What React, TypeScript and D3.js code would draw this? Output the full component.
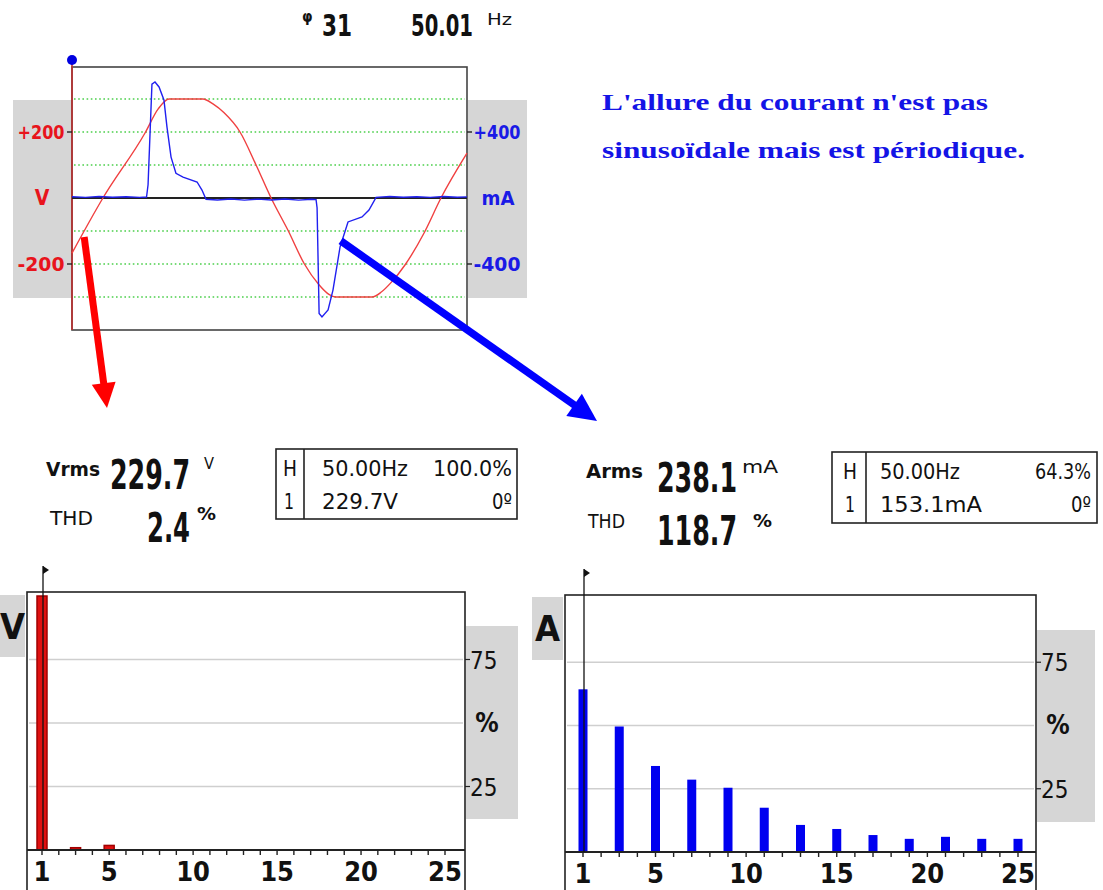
import React from "react";
import * as d3 from "d3";

// ---------- data ----------
const voltTime = [0, 1.83, 4.32, 5.1, 5.74, 7.75, 8.34, 9.0, 9.94, 10.89, 11.78, 12.8, 13.75, 14.6, 15.2, 15.6, 17.75, 18.3, 18.9, 19.7, 20.83, 21.83, 23.37];
const voltValues = [-167, 0, 197, 270, 300, 300, 285, 258, 200, 100, 0, -100, -200, -262, -292, -300, -300, -285, -255, -203, -106, 0, 136];

const currTime = [0, 0.8, 1.6, 2.4, 3.2, 4.0, 4.41, 4.5, 4.73, 4.91, 5.15, 5.44, 5.62, 5.86, 6.15, 6.57, 7.4, 7.69, 7.93, 8.6, 9.4, 10.2, 11.0, 11.8, 12.6, 13.4, 14.2, 14.44, 14.5, 14.62, 14.79, 15.15, 15.44, 15.86, 16.33, 17.16, 17.57, 17.99, 18.8, 19.6, 20.4, 21.2, 22.0, 22.8, 23.37];
const currValues = [8, 4, 9, 5, 8, 4, 6, 80, 690, 703, 673, 594, 430, 248, 150, 127, 97, 48, -8, -12, -6, -13, -7, -12, -6, -13, -8, -10, -60, -700, -721, -679, -558, -297, -145, -115, -73, 4, 9, 5, 8, 4, 9, 5, 7];

const voltGrid = [-300, -200, -100, 100, 200, 300];
const voltTicks = [200, -200];
const currTicks = [400, -400];

const harmonics = [1, 3, 5, 7, 9, 11, 13, 15, 17, 19, 21, 23, 25];
const voltHarm = [100, 0.9, 1.8, 0, 0, 0, 0, 0, 0, 0, 0, 0, 0];
const currHarm = [64.3, 49.6, 34, 28.6, 25.4, 17.5, 10.7, 9.1, 6.7, 5.2, 6, 5.2, 5.2];
const harmTickLabels = [1, 5, 10, 15, 20, 25];
const pctGrid = [25, 50, 75];
const pctTickLabels = [75, 25];

const NARROW = "'Liberation Sans Narrow', 'Arial Narrow', 'DejaVu Sans Condensed', 'DejaVu Sans', sans-serif";
const SERIF = "'Liberation Serif', 'DejaVu Serif', serif";

function Arrow({ x1, y1, x2, y2, color, w, hl, hw }) {
  const dx = x2 - x1, dy = y2 - y1;
  const len = Math.sqrt(dx * dx + dy * dy);
  const ux = dx / len, uy = dy / len;
  const bx = x2 - ux * hl, by = y2 - uy * hl;
  const px = -uy, py = ux;
  const pts = [
    [x2, y2],
    [bx + px * hw / 2, by + py * hw / 2],
    [bx - px * hw / 2, by - py * hw / 2],
  ];
  return (
    <g>
      <line x1={x1} y1={y1} x2={bx + ux * 2} y2={by + uy * 2} stroke={color} strokeWidth={w} />
      <polygon points={pts.map((p) => p.join(",")).join(" ")} fill={color} />
    </g>
  );
}

function T({ x, y, s, size, len, fill = "#111", weight = "bold", anchor = "start", family = NARROW }) {
  return (
    <text x={x} y={y} fontSize={size} fontFamily={family} fontWeight={weight} fill={fill}
      textAnchor={anchor} textLength={len} lengthAdjust={len ? "spacingAndGlyphs" : undefined}
      style={{ fontStretch: "condensed" }}>
      {s}
    </text>
  );
}

function Histogram({ x0, x1, top, axisY, hx0, hx1, values, color, barW, edge, label, labelBox, grayBox }) {
  const xs = d3.scaleLinear().domain([1, 25]).range([hx0, hx1]);
  const ys = d3.scaleLinear().domain([0, 100]).range([axisY, axisY - 254 * ((axisY - top) / 258)]);
  const allH = d3.range(1, 26);
  return (
    <g>
      <rect x={grayBox[0]} y={grayBox[1]} width={grayBox[2]} height={grayBox[3]} fill="#d6d6d6" />
      <rect x={labelBox[0]} y={labelBox[1]} width={labelBox[2]} height={labelBox[3]} fill="#d6d6d6" />
      <text x={labelBox[0] + labelBox[2] / 2} y={labelBox[1] + 44} fontSize={36} fontWeight="bold" fontFamily={NARROW}
        textAnchor="middle" fill="#111" style={{ fontStretch: "condensed" }}>{label}</text>
      <rect x={x0} y={top} width={x1 - x0} height={900 - top} fill="#fff" stroke="#222" strokeWidth={1.6} />
      {pctGrid.map((p) => (
        <line key={p} x1={x0 + 2} x2={x1 - 2} y1={ys(p)} y2={ys(p)} stroke="#cfcfcf" strokeWidth={1.6} />
      ))}
      {pctTickLabels.map((p) => (
        <g key={p}>
          <line x1={x1} x2={x1 + 5} y1={ys(p)} y2={ys(p)} stroke="#222" strokeWidth={1.2} />
          <text x={x1 + 5} y={ys(p) + 9} fontSize={24} fontFamily={NARROW} fill="#111" style={{ fontStretch: "condensed" }}>{p}</text>
        </g>
      ))}
      <text x={x1 + 22} y={ys(50) + 9} fontSize={26} fontWeight="bold" fontFamily={NARROW} textAnchor="middle" fill="#111">%</text>
      {harmonics.map((h, i) => values[i] > 0 ? (
        <rect key={h} x={xs(h) - barW / 2} y={ys(values[i])} width={barW} height={axisY - ys(values[i])}
          fill={color} stroke={edge} strokeWidth={edge ? 1.5 : 0} />
      ) : null)}
      <line x1={x0} x2={x1} y1={axisY} y2={axisY} stroke="#222" strokeWidth={2} />
      {allH.map((h) => (
        <line key={h} x1={xs(h)} x2={xs(h)} y1={axisY} y2={axisY + 5} stroke="#222" strokeWidth={1.4} />
      ))}
      {harmTickLabels.map((h) => (
        <text key={h} x={xs(h)} y={axisY + 31} fontSize={27} fontFamily={NARROW} fontWeight="bold" textAnchor="middle"
          fill="#111" style={{ fontStretch: "condensed" }}>{h}</text>
      ))}
      <line x1={xs(1) + 1} x2={xs(1) + 1} y1={top - 26} y2={axisY} stroke="#111" strokeWidth={1.3} />
      <polygon points={`${xs(1) + 1},${top - 26} ${xs(1) + 7},${top - 22} ${xs(1) + 1},${top - 18}`} fill="#111" />
    </g>
  );
}

export default function App() {
  const xT = d3.scaleLinear().domain([0, 23.37]).range([72, 467]);
  const yV = d3.scaleLinear().domain([-400, 400]).range([330, 66]);
  const yI = d3.scaleLinear().domain([-800, 800]).range([330, 66]);

  const vLine = d3.line<number>().x((_, i) => xT(voltTime[i])).y((d) => yV(d)).curve(d3.curveMonotoneX);
  const iLine = d3.line<number>().x((_, i) => xT(currTime[i])).y((d) => yI(d));

  return (
    <svg width={1103} height={890} style={{ position: "absolute", left: 0, top: 0, background: "#fff" }}>
      {/* header */}
      <text x={302} y={22} fontSize={15} fontWeight="bold" fontFamily={NARROW} fill="#111">φ</text>
      <T x={322} y={36} s="31" size={30} len={30} />
      <T x={411} y={36} s="50.01" size={30} len={62} />
      <T x={487} y={25} s="Hz" size={16} len={25} weight="normal" />

      {/* gray side boxes */}
      <rect x={13} y={100} width={59} height={198} fill="#d6d6d6" />
      <rect x={468} y={100} width={59} height={198} fill="#d6d6d6" />

      {/* plot frame */}
      <rect x={72} y={67} width={395} height={263} fill="#fff" stroke="#444" strokeWidth={1.6} />
      <line x1={72} x2={72} y1={60} y2={330} stroke="#c03030" strokeWidth={1.6} />
      <circle cx={72} cy={60} r={5} fill="#0000e0" />

      {voltGrid.map((v) => (
        <line key={v} x1={74} x2={465} y1={yV(v)} y2={yV(v)} stroke="#4ccf4c" strokeWidth={1.6} strokeDasharray="1.6,2.6" />
      ))}
      <line x1={72} x2={467} y1={yV(0)} y2={yV(0)} stroke="#222" strokeWidth={2} />

      {voltTicks.map((v) => (
        <g key={v}>
          <line x1={67} x2={72} y1={yV(v)} y2={yV(v)} stroke="#222" strokeWidth={1.4} />
          <text x={41} y={yV(v) + 7} fontSize={20} fontWeight="bold" fontFamily={NARROW} fill="#e8141c" textAnchor="middle"
            textLength={47} lengthAdjust="spacingAndGlyphs">{v > 0 ? "+" + v : "-" + Math.abs(v)}</text>
        </g>
      ))}
      <text x={42} y={yV(0) + 7} fontSize={21} fontWeight="bold" fontFamily={NARROW} fill="#e8141c" textAnchor="middle">V</text>
      {currTicks.map((c) => (
        <g key={c}>
          <line x1={467} x2={472} y1={yI(c)} y2={yI(c)} stroke="#222" strokeWidth={1.4} />
          <text x={497} y={yI(c) + 7} fontSize={20} fontWeight="bold" fontFamily={NARROW} fill="#1a1ae6" textAnchor="middle"
            textLength={47} lengthAdjust="spacingAndGlyphs">{c > 0 ? "+" + c : "-" + Math.abs(c)}</text>
        </g>
      ))}
      <text x={498} y={yI(0) + 7} fontSize={20} fontWeight="bold" fontFamily={NARROW} fill="#1a1ae6" textAnchor="middle"
        textLength={33} lengthAdjust="spacingAndGlyphs">mA</text>

      <path d={vLine(voltValues) || ""} fill="none" stroke="#f04040" strokeWidth={1.4} />
      <path d={iLine(currValues) || ""} fill="none" stroke="#2020f0" strokeWidth={1.4} />

      {/* arrows */}
      <Arrow x1={xT(0.72)} y1={yV(-118)} x2={107} y2={408} color="#ff0000" w={7} hl={25} hw={24} />
      <Arrow x1={xT(15.9)} y1={yI(-260)} x2={597} y2={421} color="#0000ff" w={7.5} hl={28} hw={27} />

      {/* comment */}
      <text x={602} y={110} fontSize={23} fontWeight="bold" fontFamily={SERIF} fill="#1414e6" textLength={386} lengthAdjust="spacingAndGlyphs">L'allure du courant n'est pas</text>
      <text x={602} y={158} fontSize={23} fontWeight="bold" fontFamily={SERIF} fill="#1414e6" textLength={423} lengthAdjust="spacingAndGlyphs">sinusoïdale mais est périodique.</text>

      {/* left stats */}
      <T x={46} y={476} s="Vrms" size={19} len={54} />
      <T x={110} y={489} s="229.7" size={40} len={80} />
      <T x={204} y={469} s="V" size={15} len={10} weight="normal" />
      <T x={50} y={525} s="THD" size={19} len={43} weight="normal" />
      <T x={147} y={542} s="2.4" size={40} len={43} />
      <T x={197} y={520} s="%" size={18} len={19} weight="bold" />

      <rect x={276} y={449} width={241} height={70} fill="#fff" stroke="#222" strokeWidth={1.6} />
      <line x1={304} x2={304} y1={449} y2={519} stroke="#222" strokeWidth={1.6} />
      <T x={283} y={476} s="H" size={21} len={14} weight="normal" />
      <T x={284} y={509} s="1" size={21} len={10} weight="normal" />
      <T x={322} y={476} s="50.00Hz" size={21} len={86} weight="normal" />
      <T x={512} y={476} s="100.0%" size={21} len={79} weight="normal" anchor="end" />
      <T x={322} y={509} s="229.7V" size={21} len={76} weight="normal" />
      <T x={512} y={509} s="0º" size={21} len={20} weight="normal" anchor="end" />

      {/* right stats */}
      <T x={586} y={478} s="Arms" size={19} len={57} />
      <T x={657} y={492} s="238.1" size={40} len={80} />
      <T x={742} y={473} s="mA" size={17} len={36} weight="normal" />
      <T x={588} y={528} s="THD" size={19} len={37} weight="normal" />
      <T x={657} y={545} s="118.7" size={40} len={80} />
      <T x={753} y={527} s="%" size={18} len={19} weight="bold" />

      <rect x={832} y={452} width={265} height={71} fill="#fff" stroke="#222" strokeWidth={1.6} />
      <line x1={866} x2={866} y1={452} y2={523} stroke="#222" strokeWidth={1.6} />
      <T x={843} y={479} s="H" size={21} len={14} weight="normal" />
      <T x={845} y={512} s="1" size={21} len={10} weight="normal" />
      <T x={880} y={479} s="50.00Hz" size={21} len={80} weight="normal" />
      <T x={1091} y={479} s="64.3%" size={21} len={56} weight="normal" anchor="end" />
      <T x={880} y={512} s="153.1mA" size={21} len={102} weight="normal" />
      <T x={1091} y={512} s="0º" size={21} len={20} weight="normal" anchor="end" />

      {/* histograms */}
      <Histogram x0={27} x1={465} top={592} axisY={850} hx0={42} hx1={445} values={voltHarm}
        color="#e01010" barW={10} edge="#a00000" label="V" labelBox={[0, 595, 25, 62]} grayBox={[466, 626, 52, 193]} />
      <Histogram x0={565} x1={1036} top={595} axisY={852} hx0={583} hx1={1018} values={currHarm}
        color="#0000f0" barW={9} edge={null} label="A" labelBox={[532, 597, 31, 63]} grayBox={[1037, 630, 58, 192]} />
    </svg>
  );
}
